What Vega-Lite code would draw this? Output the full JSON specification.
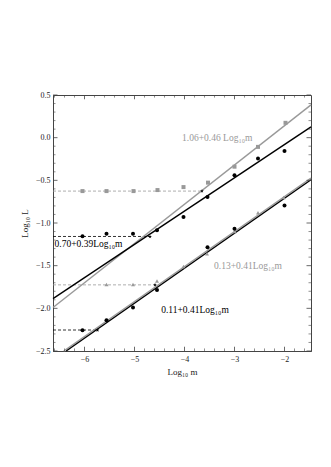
{
  "$schema": "https://vega.github.io/schema/vega-lite/v6.json",
  "width": 258,
  "height": 256,
  "autosize": {"type": "none"},
  "padding": {"left": 53, "top": 95, "right": 20, "bottom": 116},
  "background": "white",
  "config": {
    "view": {"stroke": "#444", "strokeWidth": 1},
    "axis": {"labelFont": "Liberation Serif", "labelFontSize": 8, "labelColor": "#222", "titleFont": "Liberation Serif", "titleFontSize": 9, "titleFontWeight": "normal", "titleColor": "#222", "domainColor": "#444", "ticks": false, "grid": false}
  },
  "layer": [
    {
      "data": {"values": [
        {"series": "A", "x1": -6.63, "x2": -3.65, "y": -0.626},
        {"series": "B", "x1": -6.63, "x2": -4.69, "y": -1.158},
        {"series": "C", "x1": -6.63, "x2": -4.59, "y": -1.725},
        {"series": "D", "x1": -6.63, "x2": -5.74, "y": -2.254}
      ]},
      "mark": {"type": "rule", "strokeDash": [3, 2], "strokeWidth": 0.8},
      "encoding": {
        "x": {"field": "x1", "type": "quantitative", "scale": {"domain": [-6.63, -1.47], "nice": false, "zero": false},
              "axis": {"values": [-6, -5, -4, -3, -2], "format": ".0f", "labelPadding": 4, "title": "Log₁₀ m", "titlePadding": 4}},
        "x2": {"field": "x2"},
        "y": {"field": "y", "type": "quantitative", "scale": {"domain": [-2.5, 0.5], "nice": false, "zero": false},
              "axis": {"values": [-2.5, -2, -1.5, -1, -0.5, 0, 0.5], "format": ".1f", "labelPadding": 3, "title": "Log₁₀ L", "titlePadding": 6}},
        "color": {"field": "series", "type": "nominal", "scale": {"domain": ["A", "B", "C", "D", "S"], "range": ["#999999", "#000000", "#999999", "#000000", "#000000"]}, "legend": null}
      }
    },
    {
      "data": {"values": [
        {"series": "A", "x1": -6.63, "y1": -1.99, "x2": -1.47, "y2": 0.384},
        {"series": "B", "x1": -6.63, "y1": -1.886, "x2": -1.47, "y2": 0.127},
        {"series": "C", "x1": -6.415, "y1": -2.5, "x2": -1.47, "y2": -0.473},
        {"series": "D", "x1": -6.366, "y1": -2.5, "x2": -1.47, "y2": -0.493}
      ]},
      "mark": {"type": "rule", "strokeWidth": 1.4},
      "encoding": {
        "x": {"field": "x1", "type": "quantitative"},
        "y": {"field": "y1", "type": "quantitative"},
        "x2": {"field": "x2"},
        "y2": {"field": "y2"},
        "color": {"field": "series", "type": "nominal", "legend": null}
      }
    },
    {
      "data": {"values": [
        {"series": "A", "x": -6.04, "y": -0.626}, {"series": "A", "x": -5.56, "y": -0.626}, {"series": "A", "x": -5.02, "y": -0.626}, {"series": "A", "x": -4.54, "y": -0.614}, {"series": "A", "x": -4.02, "y": -0.579}, {"series": "A", "x": -3.53, "y": -0.527}, {"series": "A", "x": -3.0, "y": -0.34}, {"series": "A", "x": -2.53, "y": -0.108}, {"series": "A", "x": -1.98, "y": 0.174},
        {"series": "B", "x": -6.04, "y": -1.155}, {"series": "B", "x": -5.56, "y": -1.127}, {"series": "B", "x": -5.03, "y": -1.127}, {"series": "B", "x": -4.55, "y": -1.085}, {"series": "B", "x": -4.02, "y": -0.93}, {"series": "B", "x": -3.54, "y": -0.696}, {"series": "B", "x": -3.0, "y": -0.44}, {"series": "B", "x": -2.53, "y": -0.245}, {"series": "B", "x": -2.0, "y": -0.155},
        {"series": "C", "x": -5.56, "y": -1.72}, {"series": "C", "x": -5.03, "y": -1.72}, {"series": "C", "x": -4.55, "y": -1.68}, {"series": "C", "x": -4.02, "y": -1.51}, {"series": "C", "x": -3.55, "y": -1.36}, {"series": "C", "x": -3.0, "y": -1.1}, {"series": "C", "x": -2.53, "y": -0.88}, {"series": "C", "x": -2.02, "y": -0.7},
        {"series": "D", "x": -6.04, "y": -2.256}, {"series": "D", "x": -5.56, "y": -2.14}, {"series": "D", "x": -5.03, "y": -1.99}, {"series": "D", "x": -4.55, "y": -1.786}, {"series": "D", "x": -3.54, "y": -1.285}, {"series": "D", "x": -3.0, "y": -1.068}, {"series": "D", "x": -2.0, "y": -0.794},
        {"series": "S", "x": -3.65, "y": -0.626},
        {"series": "S", "x": -4.69, "y": -1.16},
        {"series": "S", "x": -4.59, "y": -1.725},
        {"series": "S", "x": -5.74, "y": -2.256}
      ]},
      "mark": {"type": "point", "filled": true, "opacity": 1},
      "encoding": {
        "x": {"field": "x", "type": "quantitative"},
        "y": {"field": "y", "type": "quantitative"},
        "shape": {"field": "series", "type": "nominal", "scale": {"domain": ["A", "B", "C", "D", "S"], "range": ["square", "circle", "triangle-up", "circle", "M0,-1L0.2245,-0.309L0.951,-0.309L0.363,0.118L0.588,0.809L0,0.382L-0.588,0.809L-0.363,0.118L-0.951,-0.309L-0.2245,-0.309Z"]}, "legend": null},
        "size": {"field": "series", "type": "nominal", "scale": {"domain": ["A", "B", "C", "D", "S"], "range": [16, 16, 14, 16, 150]}, "legend": null},
        "color": {"field": "series", "type": "nominal", "legend": null}
      }
    },
    {
      "data": {"values": [
        {"series": "A", "x": -3.345, "y": -0.006, "label": "1.06+0.46 Log₁₀m"},
        {"series": "B", "x": -5.92, "y": -1.241, "label": "0.70+0.39Log₁₀m"},
        {"series": "C", "x": -2.73, "y": -1.5, "label": "0.13+0.41Log₁₀m"},
        {"series": "D", "x": -3.79, "y": -2.018, "label": "0.11+0.41Log₁₀m"}
      ]},
      "mark": {"type": "text", "font": "Liberation Serif", "fontSize": 9.5, "align": "center", "baseline": "middle"},
      "encoding": {
        "x": {"field": "x", "type": "quantitative"},
        "y": {"field": "y", "type": "quantitative"},
        "text": {"field": "label", "type": "nominal"},
        "color": {"field": "series", "type": "nominal", "legend": null}
      }
    },
    {
      "data": {"values": [{"v": -6}, {"v": -5}, {"v": -4}, {"v": -3}, {"v": -2}]},
      "mark": {"type": "rule", "color": "#444", "strokeWidth": 0.8},
      "encoding": {"x": {"field": "v", "type": "quantitative"}, "y": {"datum": -2.5}, "y2": {"datum": -2.45}}
    },
    {
      "data": {"values": [{"v": -6}, {"v": -5}, {"v": -4}, {"v": -3}, {"v": -2}]},
      "mark": {"type": "rule", "color": "#444", "strokeWidth": 0.8},
      "encoding": {"x": {"field": "v", "type": "quantitative"}, "y": {"datum": 0.5}, "y2": {"datum": 0.45}}
    },
    {
      "data": {"values": [{"v": -6.6}, {"v": -6.4}, {"v": -6.2}, {"v": -5.8}, {"v": -5.6}, {"v": -5.4}, {"v": -5.2}, {"v": -4.8}, {"v": -4.6}, {"v": -4.4}, {"v": -4.2}, {"v": -3.8}, {"v": -3.6}, {"v": -3.4}, {"v": -3.2}, {"v": -2.8}, {"v": -2.6}, {"v": -2.4}, {"v": -2.2}, {"v": -1.8}, {"v": -1.6}]},
      "mark": {"type": "rule", "color": "#444", "strokeWidth": 0.6},
      "encoding": {"x": {"field": "v", "type": "quantitative"}, "y": {"datum": -2.5}, "y2": {"datum": -2.47}}
    },
    {
      "data": {"values": [{"v": -6.6}, {"v": -6.4}, {"v": -6.2}, {"v": -5.8}, {"v": -5.6}, {"v": -5.4}, {"v": -5.2}, {"v": -4.8}, {"v": -4.6}, {"v": -4.4}, {"v": -4.2}, {"v": -3.8}, {"v": -3.6}, {"v": -3.4}, {"v": -3.2}, {"v": -2.8}, {"v": -2.6}, {"v": -2.4}, {"v": -2.2}, {"v": -1.8}, {"v": -1.6}]},
      "mark": {"type": "rule", "color": "#444", "strokeWidth": 0.6},
      "encoding": {"x": {"field": "v", "type": "quantitative"}, "y": {"datum": 0.5}, "y2": {"datum": 0.47}}
    },
    {
      "data": {"values": [{"v": -2.5}, {"v": -2.0}, {"v": -1.5}, {"v": -1.0}, {"v": -0.5}, {"v": 0.0}, {"v": 0.5}]},
      "mark": {"type": "rule", "color": "#444", "strokeWidth": 0.8},
      "encoding": {"y": {"field": "v", "type": "quantitative"}, "x": {"datum": -6.63}, "x2": {"datum": -6.54}}
    },
    {
      "data": {"values": [{"v": -2.5}, {"v": -2.0}, {"v": -1.5}, {"v": -1.0}, {"v": -0.5}, {"v": 0.0}, {"v": 0.5}]},
      "mark": {"type": "rule", "color": "#444", "strokeWidth": 0.8},
      "encoding": {"y": {"field": "v", "type": "quantitative"}, "x": {"datum": -1.47}, "x2": {"datum": -1.56}}
    },
    {
      "data": {"values": [{"v": -2.4}, {"v": -2.3}, {"v": -2.2}, {"v": -2.1}, {"v": -1.9}, {"v": -1.8}, {"v": -1.7}, {"v": -1.6}, {"v": -1.4}, {"v": -1.3}, {"v": -1.2}, {"v": -1.1}, {"v": -0.9}, {"v": -0.8}, {"v": -0.7}, {"v": -0.6}, {"v": -0.4}, {"v": -0.3}, {"v": -0.2}, {"v": -0.1}, {"v": 0.1}, {"v": 0.2}, {"v": 0.3}, {"v": 0.4}]},
      "mark": {"type": "rule", "color": "#444", "strokeWidth": 0.6},
      "encoding": {"y": {"field": "v", "type": "quantitative"}, "x": {"datum": -6.63}, "x2": {"datum": -6.58}}
    },
    {
      "data": {"values": [{"v": -2.4}, {"v": -2.3}, {"v": -2.2}, {"v": -2.1}, {"v": -1.9}, {"v": -1.8}, {"v": -1.7}, {"v": -1.6}, {"v": -1.4}, {"v": -1.3}, {"v": -1.2}, {"v": -1.1}, {"v": -0.9}, {"v": -0.8}, {"v": -0.7}, {"v": -0.6}, {"v": -0.4}, {"v": -0.3}, {"v": -0.2}, {"v": -0.1}, {"v": 0.1}, {"v": 0.2}, {"v": 0.3}, {"v": 0.4}]},
      "mark": {"type": "rule", "color": "#444", "strokeWidth": 0.6},
      "encoding": {"y": {"field": "v", "type": "quantitative"}, "x": {"datum": -1.47}, "x2": {"datum": -1.52}}
    }
  ]
}
